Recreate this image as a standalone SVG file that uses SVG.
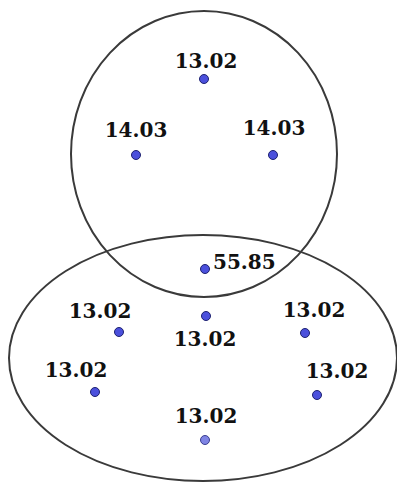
<svg xmlns="http://www.w3.org/2000/svg" width="397" height="484" viewBox="0 0 397 484">
<style>
.set{fill:none;stroke:#3a3a3a;stroke-width:2}
.dot{fill:#4b50dc;stroke:#1d2170;stroke-width:1}
.dot.light{fill:#7f84e4;stroke:#3a3e90}
.lbl{font-family:"DejaVu Serif","Liberation Serif",serif;font-weight:bold;font-size:20px;fill:#111}
.c{text-anchor:middle}
</style>
<rect width="397" height="484" fill="#fff"/>
<g id="sets">
<ellipse id="setA" class="set" cx="204" cy="154" rx="133" ry="143"/>
<ellipse id="setB" class="set" cx="203" cy="358" rx="194" ry="123"/>
</g>
<g id="connectors"/>
<g id="n1"><circle class="dot" cx="204" cy="79" r="4.5"/><text class="lbl c" x="206" y="68">13.02</text></g>
<g id="n2"><circle class="dot" cx="136" cy="155" r="4.5"/><text class="lbl c" x="136" y="137">14.03</text></g>
<g id="n3"><circle class="dot" cx="273" cy="155" r="4.5"/><text class="lbl c" x="274" y="135">14.03</text></g>
<g id="n4"><circle class="dot" cx="205" cy="269" r="4.5"/><text class="lbl" x="213" y="269">55.85</text></g>
<g id="n5"><circle class="dot" cx="119" cy="332" r="4.5"/><text class="lbl c" x="100" y="318">13.02</text></g>
<g id="n6"><circle class="dot" cx="206" cy="316" r="4.5"/><text class="lbl c" x="205" y="346">13.02</text></g>
<g id="n7"><circle class="dot" cx="305" cy="333" r="4.5"/><text class="lbl c" x="314" y="317">13.02</text></g>
<g id="n8"><circle class="dot" cx="95" cy="392" r="4.5"/><text class="lbl c" x="76" y="377">13.02</text></g>
<g id="n9"><circle class="dot" cx="317" cy="395" r="4.5"/><text class="lbl c" x="337" y="378">13.02</text></g>
<g id="n10"><circle class="dot light" cx="205" cy="440" r="4.5"/><text class="lbl c" x="206" y="423">13.02</text></g>
</svg>
